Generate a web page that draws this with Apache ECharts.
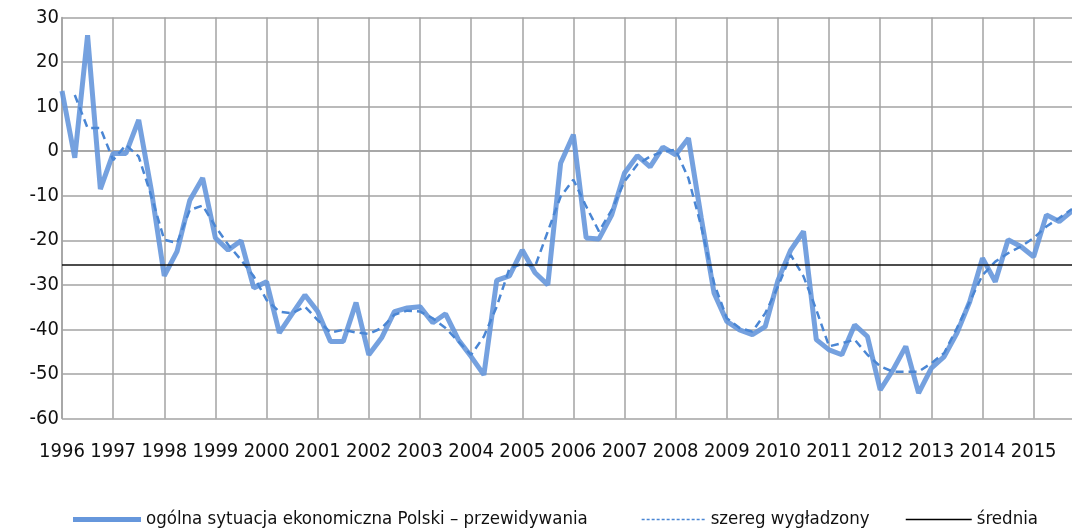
<!DOCTYPE html>
<html lang="pl">
<head>
	<meta charset="UTF-8">
	<title>ogólna sytuacja ekonomiczna Polski</title>
	<style>
		html, body { margin: 0; padding: 0; background: #fff; }
	</style>
</head>
<body>
	<div id="main" style="width: 1072px;height: 532px"></div>
	<script src="https://cdn.jsdelivr.net/npm/echarts@6/dist/echarts.min.js"></script>
	<script>
		// dane kwartalne 1996 Q1 - 2015 Q4
		var years = ['1996','1997','1998','1999','2000','2001','2002','2003','2004','2005',
			'2006','2007','2008','2009','2010','2011','2012','2013','2014','2015']
		var quarters = ['Q1','Q2','Q3','Q4']

		var przewidywania = [
			13.5, -1.5, 26, -8.5,
			-0.5, -0.5, 7, -9,
			-28, -22.5, -11, -6,
			-19.5, -22.2, -20.1, -30.7,
			-29.3, -40.8, -36.5, -32.3,
			-36, -42.7, -42.7, -34,
			-45.7, -41.9, -36, -35.2,
			-34.9, -38.5, -36.5, -42.3,
			-46.1, -50.2, -29, -28,
			-22.2, -27.3, -30, -2.7,
			3.7, -19.5, -19.7, -14.3,
			-4.9, -1, -3.5, 0.9,
			-0.8, 2.9, -15, -31.8,
			-38.2, -40.1, -41.2, -39.4,
			-29, -22.2, -18, -42.3,
			-44.6, -45.7, -39, -41.6,
			-53.6, -49.1, -43.8, -54.3,
			-48.7, -46.1, -40.8, -33.8,
			-24, -29.3, -19.9, -21.4,
			-23.7, -14.3, -15.8, -13.4
		]

		var wygladzony = [
			null, 12.6, 5.2, 5.2,
			-2, 1.4, -1.2, -10.2,
			-19.9, -20.6, -13.2, -12.2,
			-16.9, -21, -24.4, -28.1,
			-33.4, -36, -36.4, -34.9,
			-37.9, -40.7, -40.1, -40.7,
			-41, -39.7, -36.7, -35.8,
			-36, -37.5, -39.7, -42.7,
			-45.7, -41.6, -34.9, -26.3,
			-25.3, -25.9, -18, -10.2,
			-6.4, -12.4, -18, -13.2,
			-6.8, -3, -1.2, -0.1,
			0.3, -6.1, -16.9, -29.6,
			-37.5, -39.7, -40.5, -36.4,
			-30.4, -23.3, -28.1, -35.6,
			-43.8, -43.1, -42.3, -45.7,
			-48.3, -49.5, -49.5, -49.5,
			-47.6, -45.3, -39.7, -33.8,
			-27.8, -24.8, -22.9, -21.4,
			-19.5, -16.9, -15, -13
		]

		var srednia = -25.6

		var categories = []
		years.forEach(function (y) {
			quarters.forEach(function (q) { categories.push(y + ' ' + q) })
		})

		var fontName = '"DejaVu Sans Condensed", "DejaVu Sans", sans-serif'
		var gridColor = '#a3a3a3'
		var isYearStart = function (idx) { return idx % 4 === 0 }
		var legendText = { fontSize: 18.5, color: '#111', fontFamily: fontName }

		var myChart = echarts.init(document.getElementById('main'))
		var option = {
			animation: false,
			textStyle: { fontFamily: fontName },
			grid: { left: 62, top: 17.5, right: -3, bottom: 113.5 },
			legend: [
				{ data: [{ name: 'ogólna sytuacja ekonomiczna Polski – przewidywania', icon: 'rect' }],
				  left: 68, top: 505, itemWidth: 68, itemHeight: 5, itemGap: 6,
				  textStyle: legendText },
				{ data: [{ name: 'szereg wygładzony',
				           lineStyle: { color: '#4a86d4', width: 1.3, type: [3, 2], opacity: 1 } }],
				  left: 636, top: 505, itemWidth: 64, itemHeight: 10,
				  itemStyle: { opacity: 0 },
				  textStyle: legendText },
				{ data: [{ name: 'średnia', lineStyle: { color: '#000', width: 1.5, opacity: 1 } }],
				  left: 900, top: 505, itemWidth: 66, itemHeight: 10,
				  itemStyle: { opacity: 0 },
				  textStyle: legendText }
			],
			xAxis: {
				type: 'category',
				data: categories,
				boundaryGap: false,
				axisLine: { lineStyle: { color: gridColor, width: 1.5 } },
				axisTick: { show: false },
				axisLabel: {
					interval: isYearStart,
					margin: 23,
					fontSize: 20,
					color: '#111',
					fontFamily: fontName,
					formatter: function (v) { return v.split(' ')[0] }
				},
				splitLine: { show: true, interval: isYearStart, lineStyle: { color: gridColor, width: 1.5 } }
			},
			yAxis: {
				type: 'value',
				min: -60,
				max: 30,
				interval: 10,
				axisLine: { show: true, lineStyle: { color: gridColor, width: 1.5 } },
				axisTick: { show: false },
				axisLabel: { margin: 3, fontSize: 20, color: '#111', fontFamily: fontName },
				splitLine: { lineStyle: { color: gridColor, width: 1.5 } }
			},
			series: [
				{
					name: 'ogólna sytuacja ekonomiczna Polski – przewidywania',
					type: 'line',
					data: przewidywania,
					symbol: 'none',
					itemStyle: { color: '#6697dc' },
					lineStyle: { color: '#6697dc', width: 5, opacity: 0.9 },
					z: 3
				},
				{
					name: 'szereg wygładzony',
					type: 'line',
					data: wygladzony,
					symbol: 'none',
					itemStyle: { color: '#4a86d4' },
					lineStyle: { color: '#4a86d4', width: 2.5, type: [8, 5] },
					z: 4
				},
				{
					name: 'średnia',
					type: 'line',
					data: [],
					symbol: 'none',
					itemStyle: { color: '#000' },
					lineStyle: { color: '#000', width: 1.5 },
					markLine: {
						silent: true,
						symbol: 'none',
						label: { show: false },
						lineStyle: { color: '#111', width: 1.5, type: 'solid' },
						data: [{ yAxis: srednia }]
					},
					z: 5
				}
			]
		}
		myChart.setOption(option)
	</script>
</body>
</html>
